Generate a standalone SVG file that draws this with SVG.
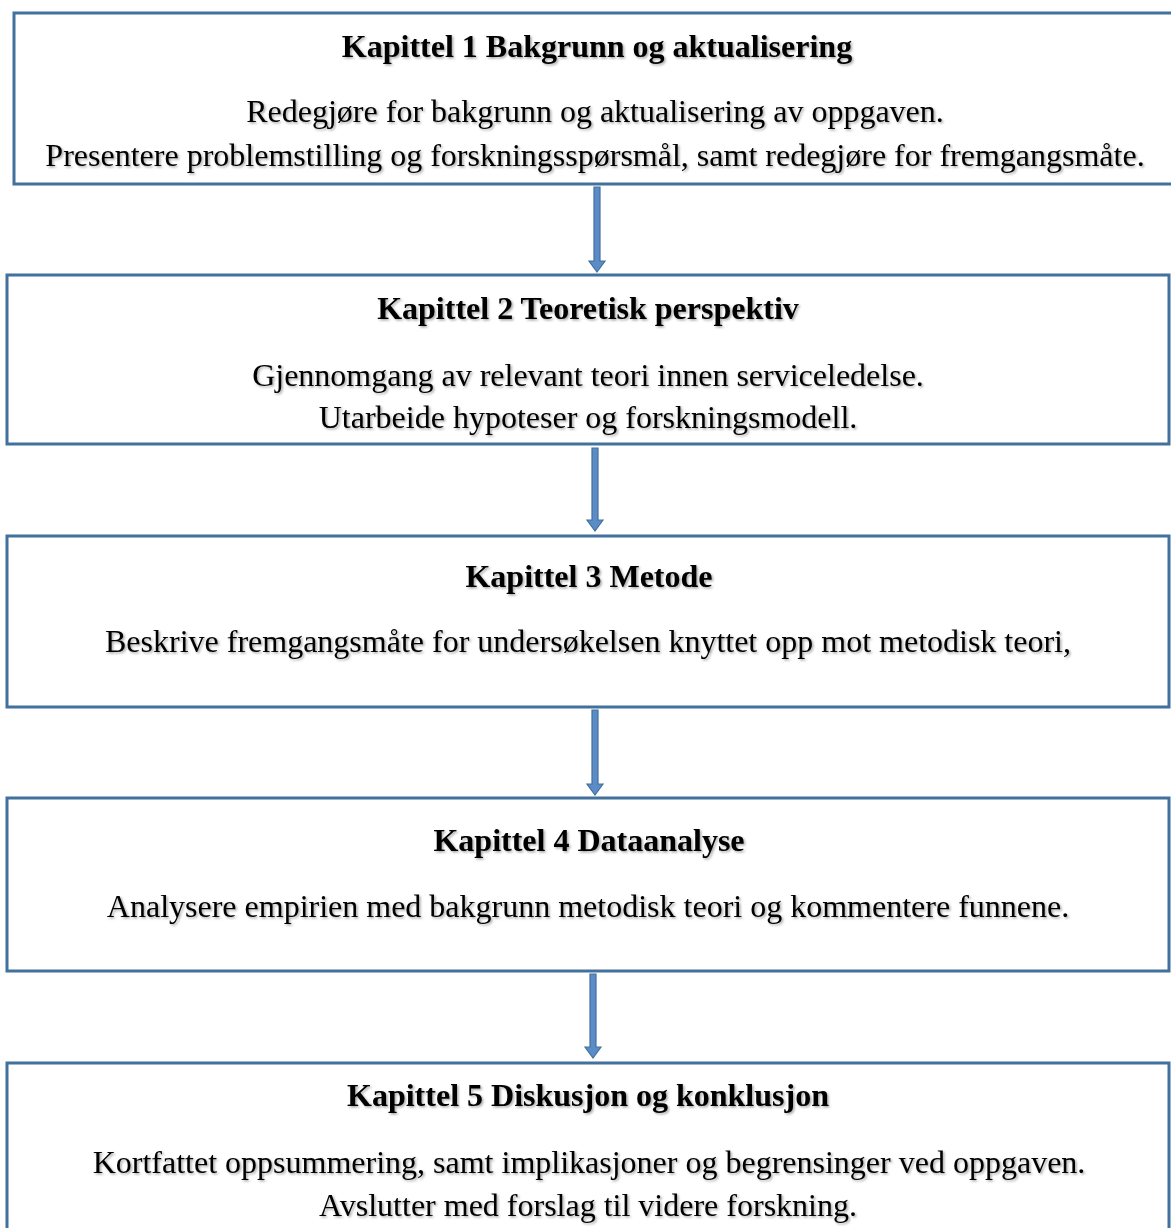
<svg xmlns="http://www.w3.org/2000/svg" width="1171" height="1228" viewBox="0 0 1171 1228">
<style>
.box{fill:#fff;stroke:#41719c;stroke-width:3}
.t{font-family:"Liberation Serif",serif;font-size:32px;fill:#000;text-anchor:middle;filter:url(#sh)}
.b{font-weight:bold}
.shaft{fill:#5b8cc8;stroke:#41719c;stroke-width:1.2}
</style>
<defs>
<filter id="sh" x="-5%" y="-30%" width="110%" height="160%">
<feDropShadow dx="1.5" dy="1.5" stdDeviation="1.2" flood-color="#000" flood-opacity="0.35"/>
</filter>
</defs>
<rect width="1171" height="1228" fill="#fff"/>
<g id="connectors">
<path class="shaft" d="M594,187 H600 V261 H605 L597,272 L589,261 H594 Z"/>
<path class="shaft" d="M592,448 H598 V520 H603 L595,531 L587,520 H592 Z"/>
<path class="shaft" d="M592,710 H598 V784 H603 L595,795 L587,784 H592 Z"/>
<path class="shaft" d="M590,974 H596 V1047 H601 L593,1058 L585,1047 H590 Z"/>
</g>
<g id="n1">
<rect class="box" x="14" y="13" width="1165" height="171"/>
<text class="t b" x="597" y="57">Kapittel 1 Bakgrunn og aktualisering</text>
<text class="t" x="595" y="122">Redegjøre for bakgrunn og aktualisering av oppgaven.</text>
<text class="t" x="595" y="166">Presentere problemstilling og forskningsspørsmål, samt redegjøre for fremgangsmåte.</text>
</g>
<g id="n2">
<rect class="box" x="7" y="275" width="1162" height="169"/>
<text class="t b" x="588" y="319">Kapittel 2 Teoretisk perspektiv</text>
<text class="t" x="588" y="386">Gjennomgang av relevant teori innen serviceledelse.</text>
<text class="t" x="588" y="428">Utarbeide hypoteser og forskningsmodell.</text>
</g>
<g id="n3">
<rect class="box" x="7" y="536" width="1162" height="171"/>
<text class="t b" x="589" y="587">Kapittel 3 Metode</text>
<text class="t" x="588" y="652">Beskrive fremgangsmåte for undersøkelsen knyttet opp mot metodisk teori,</text>
</g>
<g id="n4">
<rect class="box" x="7" y="798" width="1162" height="173"/>
<text class="t b" x="589" y="851">Kapittel 4 Dataanalyse</text>
<text class="t" x="588" y="917">Analysere empirien med bakgrunn metodisk teori og kommentere funnene.</text>
</g>
<g id="n5">
<rect class="box" x="7" y="1063" width="1162" height="180"/>
<text class="t b" x="588" y="1106">Kapittel 5 Diskusjon og konklusjon</text>
<text class="t" x="589" y="1173">Kortfattet oppsummering, samt implikasjoner og begrensinger ved oppgaven.</text>
<text class="t" x="588" y="1216">Avslutter med forslag til videre forskning.</text>
</g>
</svg>
